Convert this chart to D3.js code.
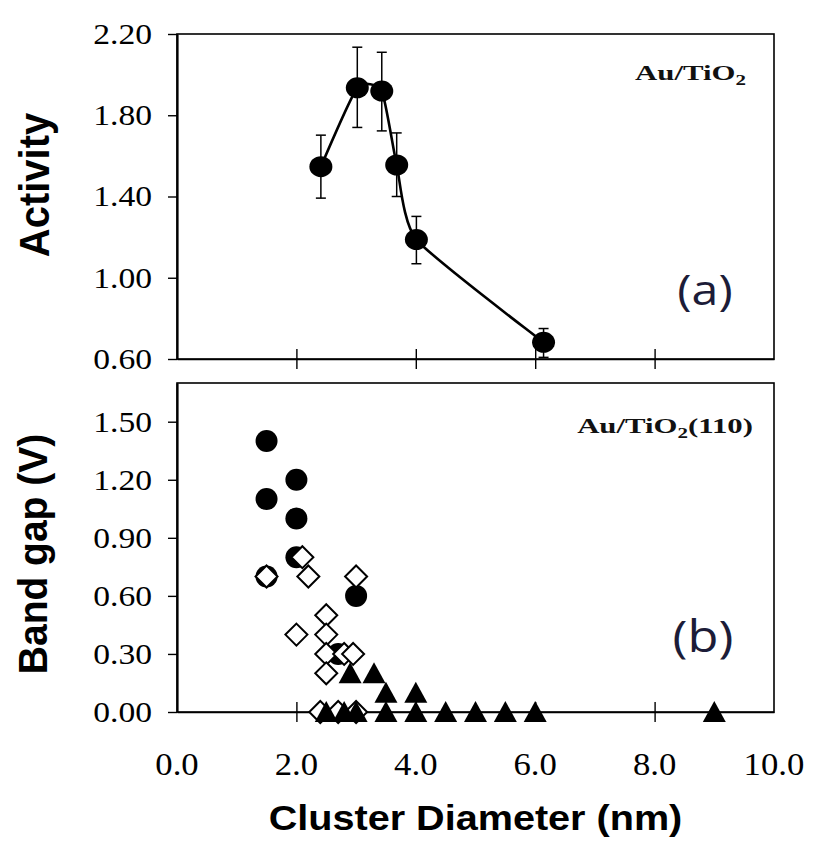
<!DOCTYPE html>
<html><head><meta charset="utf-8">
<script src="https://cdn.jsdelivr.net/npm/d3@7/dist/d3.min.js"></script>
<style>body{margin:0;background:#fff}</style>
</head><body>
<svg id="c" width="814" height="843"></svg>
<script>
// ---- Data ----
// Panel (a): activity vs cluster diameter
const activityDiameter = [2.41, 3.02, 3.43, 3.68, 4.01, 6.14];
const activity         = [1.547, 1.935, 1.919, 1.555, 1.188, 0.682];
const activityErrLow   = [1.392, 1.740, 1.723, 1.400, 1.069, 0.608];
const activityErrHigh  = [1.702, 2.135, 2.110, 1.713, 1.302, 0.750];
const activityTicks = [0.60, 1.00, 1.40, 1.80, 2.20];

// Panel (b): band gap vs cluster diameter
const circleDiameter = [1.5, 1.5, 2.0, 2.0, 2.0, 1.5, 3.0, 2.7];
const circleGap      = [1.40, 1.10, 1.20, 1.00, 0.80, 0.70, 0.60, 0.30];
const diamondDiameter = [1.5, 2.1, 2.2, 3.0, 2.0, 2.5, 2.5, 2.5, 2.5, 2.8, 2.95, 2.4, 2.7, 3.0];
const diamondGap      = [0.70, 0.80, 0.70, 0.70, 0.40, 0.50, 0.40, 0.30, 0.20, 0.30, 0.30, 0.00, 0.00, 0.00];
const triangleDiameter = [2.9, 3.3, 3.5, 4.0, 2.5, 2.8, 3.0, 3.5, 4.0, 4.5, 5.0, 5.5, 6.0, 9.0];
const triangleGap      = [0.20, 0.20, 0.10, 0.10, 0, 0, 0, 0, 0, 0, 0, 0, 0, 0];
const gapTicks = [0.00, 0.30, 0.60, 0.90, 1.20, 1.50];

const diameterTicks = [0, 2, 4, 6, 8, 10];
const innerDiameterTicks = [2, 4, 6, 8];

// ---- Layout ----
const W = 814, H = 843;
const L = 177, R = 774;
const svg = d3.select("#c");
svg.append("rect").attr("width", W).attr("height", H).attr("fill", "#fff");

const x = d3.scaleLinear().domain([0, 10]).range([L, R]);
const yA = d3.scaleLinear().domain([0.6, 2.2]).range([359, 34]);
const yB = d3.scaleLinear().domain([0, 1.7]).range([712, 383]);

const serif = "'Liberation Serif','Times New Roman',serif";
const sans = "'Liberation Sans',Arial,sans-serif";

function label(g, str, tx, ty, o) {
  const t = g.append("text")
    .attr("transform", `translate(${tx},${ty}) scale(${o.sx || 1},1)` + (o.rot ? ` rotate(${o.rot})` : ""))
    .attr("text-anchor", o.anchor || "middle")
    .attr("font-family", o.family || serif)
    .attr("font-size", o.size)
    .attr("font-weight", o.weight || "normal")
    .attr("fill", o.fill || "#000")
    .attr("letter-spacing", o.ls || 0);
  if (o.baseline) t.attr("dominant-baseline", o.baseline);
  t.text(str);
  return t;
}

function panel(y, ticks, fmt) {
  svg.append("rect")
    .attr("x", L).attr("y", y.range()[1])
    .attr("width", R - L).attr("height", y.range()[0] - y.range()[1])
    .attr("fill", "none").attr("stroke", "#000").attr("stroke-width", 1.6);
  const ga = svg.append("g").attr("transform", `translate(${L},0)`)
    .call(d3.axisLeft(y).tickValues(ticks).tickSize(9).tickSizeOuter(0).tickFormat(""));
  ga.select(".domain").attr("stroke-width", 2.2);
  ga.selectAll(".tick line").attr("stroke-width", 1.4);
  ticks.forEach(t => label(svg, fmt(t), 152, y(t), {size: 30, sx: 1.12, anchor: "end", baseline: "central"}));
  const gx = svg.append("g").attr("transform", `translate(0,${y.range()[0]})`)
    .call(d3.axisBottom(x).tickValues(innerDiameterTicks).tickSize(10).tickSizeOuter(0).tickFormat(""));
  gx.select(".domain").attr("stroke-width", 1.4);
  gx.selectAll(".tick line").attr("y1", -10).attr("stroke-width", 1.4);
}

panel(yA, activityTicks, d3.format(".2f"));
panel(yB, gapTicks, d3.format(".2f"));

diameterTicks.forEach(t => label(svg, d3.format(".1f")(t), x(t), 775, {size: 31, sx: 1.12}));

label(svg, "Cluster Diameter (nm)", x(5), 830, {size: 36, sx: 1.1, family: sans, weight: "bold"});
label(svg, "Activity", 49, 185, {size: 40, rot: -90, family: sans, weight: "bold", sx: 1.05});
label(svg, "Band gap (V)", 47, 554, {size: 39, rot: -90, family: sans, weight: "bold", sx: 1.05});

// ---- Panel (a) marks ----
const actData = activityDiameter.map((d, i) => ({d, v: activity[i], lo: activityErrLow[i], hi: activityErrHigh[i]}));
svg.append("path")
  .datum(actData)
  .attr("fill", "none").attr("stroke", "#000").attr("stroke-width", 2.6)
  .attr("d", d3.line().x(p => x(p.d)).y(p => yA(p.v)).curve(d3.curveCardinal.tension(0.45)));
const eb = svg.append("g").attr("stroke", "#000").attr("stroke-width", 1.5);
actData.forEach(p => {
  eb.append("line").attr("x1", x(p.d)).attr("x2", x(p.d)).attr("y1", yA(p.lo)).attr("y2", yA(p.hi));
  eb.append("line").attr("x1", x(p.d) - 5).attr("x2", x(p.d) + 5).attr("y1", yA(p.lo)).attr("y2", yA(p.lo));
  eb.append("line").attr("x1", x(p.d) - 5).attr("x2", x(p.d) + 5).attr("y1", yA(p.hi)).attr("y2", yA(p.hi));
});
svg.append("g").selectAll("ellipse").data(actData).join("ellipse")
  .attr("cx", p => x(p.d)).attr("cy", p => yA(p.v)).attr("rx", 11.5).attr("ry", 10.5).attr("fill", "#000");

// ---- Panel (b) marks ----
svg.append("g").selectAll("circle").data(circleDiameter.map((d, i) => [d, circleGap[i]])).join("circle")
  .attr("cx", p => x(p[0])).attr("cy", p => yB(p[1])).attr("r", 11).attr("fill", "#000");
svg.append("g").selectAll("path").data(diamondDiameter.map((d, i) => [d, diamondGap[i]])).join("path")
  .attr("transform", p => `translate(${x(p[0])},${yB(p[1])})`)
  .attr("d", "M0,-11L11,0L0,11L-11,0Z")
  .attr("fill", "#fff").attr("stroke", "#000").attr("stroke-width", 2);
svg.append("g").selectAll("path").data(triangleDiameter.map((d, i) => [d, triangleGap[i]])).join("path")
  .attr("transform", p => `translate(${x(p[0])},${yB(p[1])})`)
  .attr("d", "M0,-11L11.5,10L-11.5,10Z")
  .attr("fill", "#000");

// ---- Annotations ----
function formula(tx, ty, suffix) {
  const t = svg.append("text")
    .attr("transform", `translate(${tx},${ty}) scale(1.4,1)`)
    .attr("text-anchor", "end")
    .attr("font-family", serif).attr("font-weight", "bold").attr("font-size", 22).attr("fill", "#111");
  t.append("tspan").text("Au/TiO");
  t.append("tspan").attr("font-size", 15).attr("dy", 5).text("2");
  if (suffix) t.append("tspan").attr("dy", -5).text(suffix);
}
formula(746, 80, null);
formula(753, 433, "(110)");

const panelFont = "'Open Sans','Noto Sans',sans-serif";
label(svg, "(a)", 705, 305, {size: 42, family: panelFont, fill: "#1c1c38", sx: 1.15});
label(svg, "(b)", 703, 652, {size: 44, family: panelFont, fill: "#1c1c38", sx: 1.15});
</script>
</body></html>
